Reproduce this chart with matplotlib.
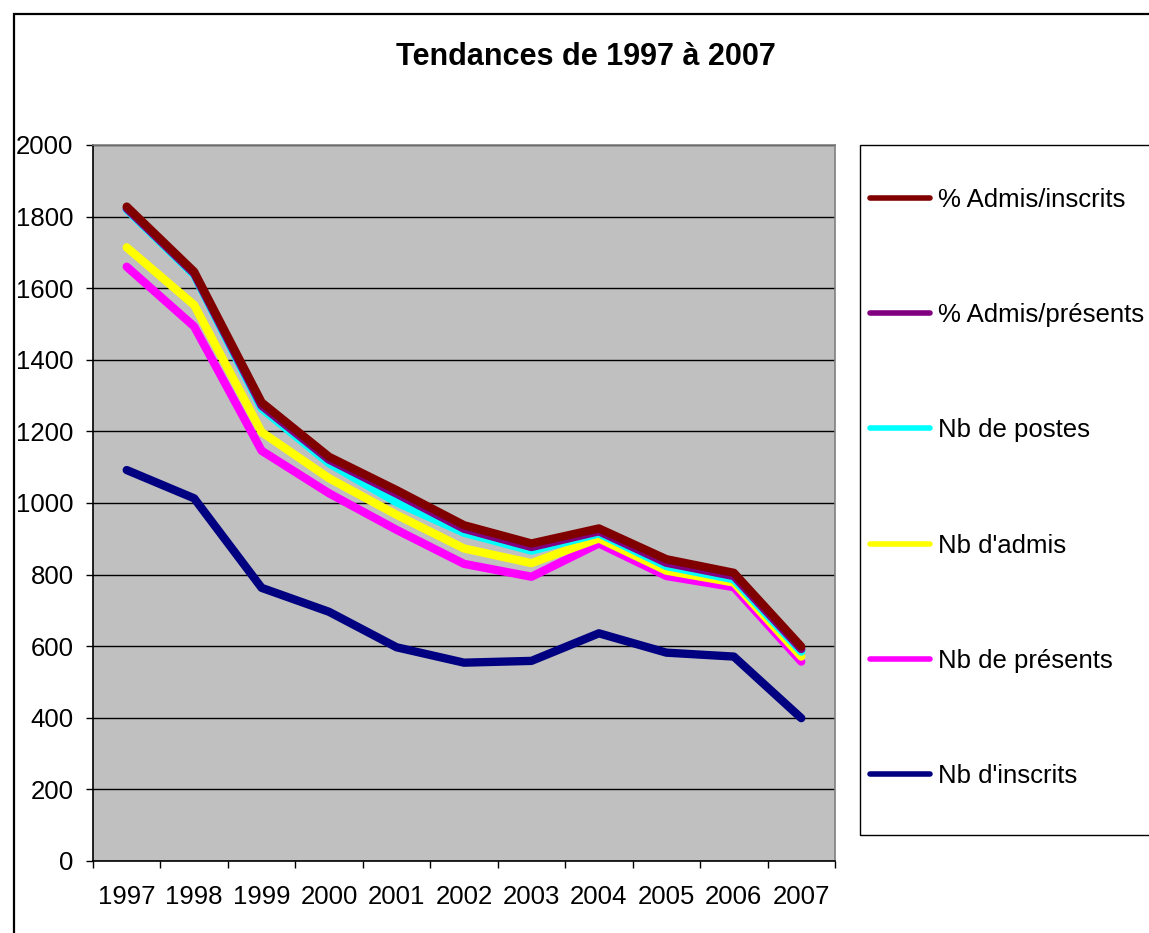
import matplotlib
matplotlib.use("Agg")
import matplotlib.pyplot as plt
import matplotlib.patches as mpatches

annees = ['1997', '1998', '1999', '2000', '2001', '2002', '2003', '2004', '2005', '2006', '2007']

# valeurs cumulées (courbes empilées)
nb_inscrits = [1092, 1013, 763, 696, 597, 554, 559, 636, 582, 571, 399]
nb_presents = [1660, 1493, 1146, 1027, 925, 830, 794, 887, 796, 765, 557]
nb_admis = [1714, 1553, 1198, 1069, 967, 873, 832, 901, 811, 778, 571]
nb_postes = [1820, 1637, 1264, 1111, 1002, 917, 867, 915, 824, 787, 585]
pct_admis_presents = [1823, 1641, 1272, 1121, 1026, 928, 877, 921, 833, 796, 592]
pct_admis_inscrits = [1828, 1646, 1281, 1129, 1036, 938, 887, 929, 843, 805, 599]

series = [
    ("Nb d'inscrits", nb_inscrits, '#000080'),
    ("Nb de présents", nb_presents, '#FF00FF'),
    ("Nb d'admis", nb_admis, '#FFFF00'),
    ("Nb de postes", nb_postes, '#00FFFF'),
    ("% Admis/présents", pct_admis_presents, '#800080'),
    ("% Admis/inscrits", pct_admis_inscrits, '#800000'),
]

plt.rcParams['font.family'] = ['Liberation Sans', 'DejaVu Sans']

W, H = 1149, 933
fig = plt.figure(figsize=(W / 100, H / 100), dpi=100)
fig.patch.set_facecolor('white')

# cadre extérieur du graphique
fig.patches.append(mpatches.Rectangle((14 / W, -0.1), 1.2, 1 - 14 / H + 0.1, transform=fig.transFigure,
                                      fill=False, edgecolor='black', linewidth=1.6))

ax = fig.add_axes([93 / W, 1 - 861 / H, (835 - 93) / W, (861 - 145) / H])
ax.set_facecolor('#C0C0C0')

x = list(range(len(annees)))
handles = []
for nom, vals, couleur in series:
    ln, = ax.plot(x, vals, color=couleur, linewidth=6, solid_capstyle='round',
                  solid_joinstyle='round', label=nom)
    handles.append(ln)

ax.set_xlim(-0.5, len(annees) - 0.5)
ax.set_ylim(0, 2000)
ax.set_yticks(range(0, 2001, 200))
ax.grid(axis='y', color='black', linewidth=1)
ax.set_axisbelow(True)

ax.set_xticks(x)
ax.set_xticklabels(annees)
ax.set_xticks([i - 0.5 for i in range(len(annees) + 1)], minor=True)
ax.tick_params(axis='x', which='major', length=0, pad=17, labelsize=18.5)
ax.tick_params(axis='x', which='minor', length=5, width=1, direction='out', color='black')
ax.tick_params(axis='y', length=5, width=1, direction='out', pad=9, labelsize=18.5)

ax.spines['left'].set_color('black')
ax.spines['bottom'].set_color('black')
ax.spines['top'].set_color('#808080')
ax.spines['right'].set_color('#808080')
for s in ax.spines.values():
    s.set_linewidth(1.2)

fig.text(586 / W, 1 - 57 / H, 'Tendances de 1997 à 2007', ha='center', va='center',
         fontsize=22, fontweight='bold')

# cadre de la légende
fig.patches.append(mpatches.Rectangle((860 / W, 1 - 835 / H), 0.5, (835 - 145) / H,
                                      transform=fig.transFigure, fill=False,
                                      edgecolor='black', linewidth=1))

leg = fig.legend(handles=handles[::-1], loc='center left',
                 bbox_to_anchor=(870 / W, 1 - 488 / H), frameon=False,
                 fontsize=18.5, handlelength=2.35, handletextpad=0.3,
                 labelspacing=3.55, borderpad=0, borderaxespad=0)
for l in leg.get_lines():
    l.set_linewidth(4)

fig.savefig('out.png', dpi=100)
